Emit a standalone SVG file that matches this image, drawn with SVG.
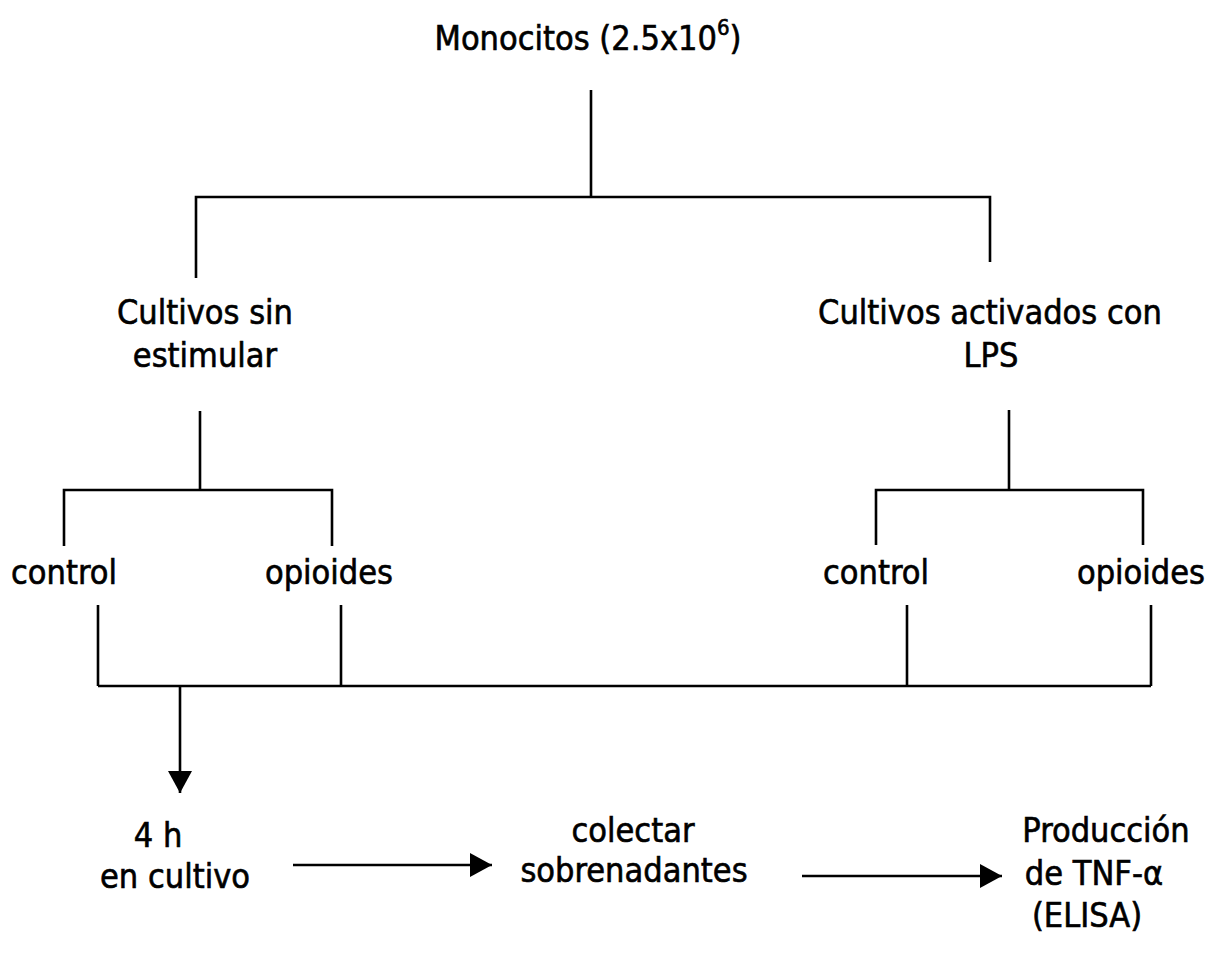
<svg xmlns="http://www.w3.org/2000/svg" width="1213" height="966" viewBox="0 0 1213 966">
<style>
text{font-family:"DejaVu Sans Condensed","DejaVu Sans","Liberation Sans",sans-serif;font-size:34px;fill:#000;stroke:#000;stroke-width:0.6;text-anchor:middle}
.ln{fill:none;stroke:#000;stroke-width:2.6}
</style>
<defs>
<marker id="ah" viewBox="0 0 22 24" refX="22" refY="12" markerWidth="22" markerHeight="24" markerUnits="userSpaceOnUse" orient="auto">
<path d="M0,0 L22,12 L0,24 Z" fill="#000"/>
</marker>
</defs>
<rect width="1213" height="966" fill="#fff"/>
<g id="connectors">
<path class="ln" d="M591,90 V197 M196,278 V197 H990 V262"/>
<path class="ln" d="M200,411 V490 M64,546 V490 H332 V546"/>
<path class="ln" d="M1009,410 V490 M876,545 V490 H1143 V545"/>
<path class="ln" d="M98,605 V686 M341,605 V686 M907,605 V686 M1151,605 V686 M98,686 H1151"/>
<path class="ln" d="M180,686 V793" marker-end="url(#ah)"/>
<path class="ln" d="M293,865 H492" marker-end="url(#ah)"/>
<path class="ln" d="M802,876 H1002" marker-end="url(#ah)"/>
</g>
<g id="monocitos"><text x="588" y="50">Monocitos (2.5x10<tspan dy="-15" font-size="22">6</tspan><tspan dy="15">)</tspan></text></g>
<g id="sin-estimular"><text x="205" y="324">Cultivos sin</text><text x="205" y="367">estimular</text></g>
<g id="activados"><text x="990" y="324">Cultivos activados con</text><text x="991" y="367">LPS</text></g>
<g id="control-1"><text x="64" y="584">control</text></g>
<g id="opioides-1"><text x="329" y="584">opioides</text></g>
<g id="control-2"><text x="876" y="584">control</text></g>
<g id="opioides-2"><text x="1141" y="584">opioides</text></g>
<g id="cultivo"><text x="158" y="847">4 h</text><text x="175" y="888">en cultivo</text></g>
<g id="colectar"><text x="633" y="842">colectar</text><text x="634" y="882">sobrenadantes</text></g>
<g id="produccion"><text x="1106" y="842">Producción</text><text x="1094" y="885">de TNF-α</text><text x="1087" y="927">(ELISA)</text></g>
</svg>
